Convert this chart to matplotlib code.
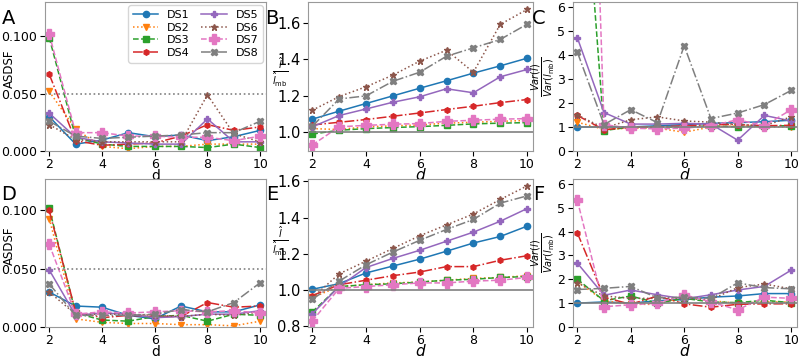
import numpy as np
import matplotlib
matplotlib.use('Agg')
import matplotlib.pyplot as plt

d = [2, 3, 4, 5, 6, 7, 8, 9, 10]
names = ['DS1', 'DS2', 'DS3', 'DS4', 'DS5', 'DS6', 'DS7', 'DS8']

# Panel A: ASDSF (top row)
asdsf_top = {
    'DS1': [0.030, 0.006, 0.0095, 0.016, 0.0125, 0.014, 0.009, 0.0125, 0.018],
    'DS2': [0.052, 0.019, 0.004, 0.002, 0.004, 0.004, 0.006, 0.006, 0.006],
    'DS3': [0.099, 0.012, 0.006, 0.004, 0.004, 0.004, 0.003, 0.006, 0.003],
    'DS4': [0.067, 0.009, 0.005, 0.006, 0.007, 0.013, 0.023, 0.018, 0.021],
    'DS5': [0.033, 0.012, 0.008, 0.007, 0.006, 0.006, 0.028, 0.008, 0.008],
    'DS6': [0.023, 0.010, 0.008, 0.008, 0.008, 0.008, 0.049, 0.015, 0.008],
    'DS7': [0.102, 0.016, 0.016, 0.013, 0.013, 0.012, 0.012, 0.009, 0.013],
    'DS8': [0.026, 0.013, 0.011, 0.012, 0.013, 0.014, 0.016, 0.016, 0.026],
}
# Panel B: marginal likelihood ratio (top row)
ratio_top = {
    'DS1': [1.072, 1.116, 1.158, 1.200, 1.242, 1.283, 1.325, 1.365, 1.407],
    'DS2': [1.020, 1.015, 1.030, 1.035, 1.040, 1.050, 1.055, 1.060, 1.065],
    'DS3': [0.990, 1.011, 1.020, 1.026, 1.031, 1.038, 1.046, 1.050, 1.053],
    'DS4': [1.040, 1.055, 1.070, 1.088, 1.106, 1.125, 1.143, 1.163, 1.180],
    'DS5': [1.030, 1.092, 1.128, 1.165, 1.195, 1.239, 1.217, 1.305, 1.345],
    'DS6': [1.121, 1.196, 1.250, 1.314, 1.391, 1.451, 1.330, 1.593, 1.675],
    'DS7': [0.930, 1.030, 1.038, 1.044, 1.048, 1.060, 1.066, 1.072, 1.075],
    'DS8': [1.033, 1.183, 1.200, 1.280, 1.330, 1.418, 1.464, 1.510, 1.594],
}
# Panel C: variance ratio (top row)
var_top = {
    'DS1': [1.00, 1.00, 1.00, 1.05, 1.10, 1.15, 1.18, 1.22, 1.28],
    'DS2': [1.20, 0.90, 0.95, 0.95, 0.78, 1.00, 1.05, 1.00, 1.00],
    'DS3': [15.6, 0.85, 1.00, 1.00, 1.00, 1.05, 1.00, 1.05, 1.05],
    'DS4': [1.48, 0.88, 1.00, 1.00, 1.05, 1.10, 1.10, 1.05, 1.07],
    'DS5': [4.72, 1.60, 1.12, 1.12, 1.15, 1.12, 0.45, 1.48, 1.25],
    'DS6': [1.50, 0.95, 1.30, 1.42, 1.25, 1.20, 1.10, 1.05, 1.42],
    'DS7': [34.7, 1.10, 0.95, 0.92, 0.95, 1.05, 1.30, 1.05, 1.72],
    'DS8': [4.12, 1.10, 1.72, 1.18, 4.38, 1.35, 1.58, 1.93, 2.52],
}
# Panel D: ASDSF (bottom row)
asdsf_bot = {
    'DS1': [0.030, 0.018, 0.017, 0.010, 0.007, 0.018, 0.013, 0.013, 0.019],
    'DS2': [0.093, 0.007, 0.004, 0.003, 0.003, 0.002, 0.002, 0.001, 0.005],
    'DS3': [0.102, 0.012, 0.006, 0.005, 0.009, 0.010, 0.005, 0.011, 0.010],
    'DS4': [0.100, 0.013, 0.008, 0.010, 0.009, 0.009, 0.021, 0.017, 0.018],
    'DS5': [0.049, 0.010, 0.012, 0.011, 0.008, 0.009, 0.011, 0.011, 0.014],
    'DS6': [0.030, 0.011, 0.011, 0.011, 0.010, 0.009, 0.011, 0.010, 0.013],
    'DS7': [0.071, 0.011, 0.013, 0.012, 0.013, 0.014, 0.013, 0.014, 0.012],
    'DS8': [0.037, 0.010, 0.010, 0.010, 0.011, 0.015, 0.013, 0.021, 0.038],
}
# Panel E
ratio_bot = {
    'DS1': [1.005, 1.036, 1.095, 1.133, 1.171, 1.215, 1.260, 1.296, 1.353],
    'DS2': [0.960, 1.020, 1.030, 1.040, 1.045, 1.055, 1.065, 1.070, 1.080],
    'DS3': [0.880, 1.020, 1.030, 1.035, 1.045, 1.055, 1.060, 1.070, 1.075],
    'DS4': [0.970, 1.030, 1.055, 1.080, 1.100, 1.130, 1.130, 1.165, 1.190],
    'DS5': [0.870, 1.020, 1.125, 1.175, 1.220, 1.270, 1.320, 1.380, 1.450],
    'DS6': [0.958, 1.090, 1.160, 1.230, 1.300, 1.360, 1.420, 1.500, 1.575],
    'DS7': [0.830, 1.010, 1.020, 1.030, 1.040, 1.040, 1.050, 1.055, 1.070],
    'DS8': [0.950, 1.050, 1.140, 1.210, 1.275, 1.335, 1.390, 1.480, 1.520],
}
# Panel F
var_bot = {
    'DS1': [1.00, 1.05, 1.00, 1.10, 1.15, 1.25, 1.30, 1.40, 1.40],
    'DS2': [1.90, 1.10, 0.95, 0.95, 1.25, 1.10, 1.00, 1.05, 1.05],
    'DS3': [2.00, 1.10, 1.30, 1.00, 1.20, 1.05, 1.02, 1.12, 1.02],
    'DS4': [3.95, 1.25, 0.95, 1.30, 0.97, 0.83, 0.95, 0.97, 0.97],
    'DS5': [2.68, 1.33, 1.55, 1.35, 1.18, 1.35, 1.55, 1.70, 2.38],
    'DS6': [1.85, 1.30, 1.20, 1.20, 1.20, 1.15, 1.65, 1.80, 1.60],
    'DS7': [5.32, 0.85, 0.93, 1.00, 1.35, 1.05, 0.72, 1.25, 1.20],
    'DS8': [1.57, 1.62, 1.70, 1.22, 1.25, 1.20, 1.85, 1.65, 1.60],
}

colors = ['C0', 'C1', 'C2', 'C3', 'C4', 'C5', 'C6', 'C7']
styles = ['-', ':', '--', '-.', '-', ':', '--', '-.']
markers = ['o', 'v', 's', 'h', 'P', '*', 'P', 'X']
msizes = [4.5, 5, 5, 4, 4, 4.5, 6.5, 5]

fig = plt.figure(figsize=(8, 3.57), dpi=100)
W, H = 800, 357
def box(x0, x1, y0, y1):
    return [x0 / W, 1 - y1 / H, (x1 - x0) / W, (y1 - y0) / H]

rows = [(2, 151), (179, 327)]
cols = [(45, 266), (308, 533), (573, 797)]
data_rows = [(asdsf_top, ratio_top, var_top), (asdsf_bot, ratio_bot, var_bot)]
letters = [['A', 'B', 'C'], ['D', 'E', 'F']]
letter_x = [9, 272, 539]
letter_y = [18, 195]
ylims = [[(0, 0.130), (0.897, 1.716), (0, 6.2)],
         [(0, 0.127), (0.797, 1.613), (0, 6.2)]]

for r, (y0, y1) in enumerate(rows):
    for c, (x0, x1) in enumerate(cols):
        ax = fig.add_axes(box(x0, x1, y0, y1))
        vals = data_rows[r][c]
        for i, n in enumerate(names):
            ax.plot(d, vals[n], color=colors[i], linestyle=styles[i], marker=markers[i],
                    markersize=msizes[i], linewidth=1.1, label=n)
        for s in ax.spines.values():
            s.set_color('#999999')
        ax.set_xticks([2, 4, 6, 8, 10])
        ax.tick_params(axis='x', labelsize=9, pad=1.5)
        ax.set_xlim(1.84, 10.22)
        ax.set_ylim(*ylims[r][c])
        if c == 0:
            ax.axhline(0.05, color='gray', linestyle=':', linewidth=1.2)
            ax.set_yticks([0.0, 0.05, 0.1])
            ax.set_yticklabels(['0.000', '0.050', '0.100'])
            ax.tick_params(axis='y', labelsize=9, pad=2)
            ax.set_ylabel('ASDSF', fontsize=8.5)
            ax.yaxis.set_label_coords(-0.13, 0.55)
            ax.set_xlabel('d', fontsize=10, labelpad=-1.5)
        elif c == 1:
            ax.axhline(1.0, color='gray', linewidth=1.2)
            if r == 0:
                ax.set_yticks([1.0, 1.2, 1.4, 1.6])
            else:
                ax.set_yticks([0.8, 1.0, 1.2, 1.4, 1.6])
            ax.tick_params(axis='y', labelsize=10.5, pad=2)
            # horizontal fraction label, drawn as plain text beside the axis
            ax.text(-0.125, 0.53 if r == 0 else 0.58, r'$\frac{\hat{l}}{\hat{l}_{\rm mb}}$',
                    fontsize=10, transform=ax.transAxes, ha='center', va='center')
            ax.set_xlabel('$d$', fontsize=11, labelpad=-2.5)
        else:
            ax.axhline(1.0, color='gray', linewidth=1.2)
            ax.set_yticks([0, 1, 2, 3, 4, 5, 6])
            ax.tick_params(axis='y', labelsize=9, pad=2)
            ax.set_ylabel(r'$\frac{Var(l)}{Var(l_{\rm mb})}$', fontsize=10)
            ax.yaxis.set_label_coords(-0.07, 0.5)
            ax.set_xlabel('$d$', fontsize=11, labelpad=-2.5)
        fig.text(letter_x[c] / W, 1 - letter_y[r] / H, letters[r][c], fontsize=14,
                 ha='center', va='center')
        if r == 0 and c == 0:
            ax.legend(ncol=2, fontsize=8, loc='upper right', handlelength=2.3,
                      columnspacing=1.0, borderaxespad=0.3, labelspacing=0.25)

fig.savefig('out.png', dpi=100)
